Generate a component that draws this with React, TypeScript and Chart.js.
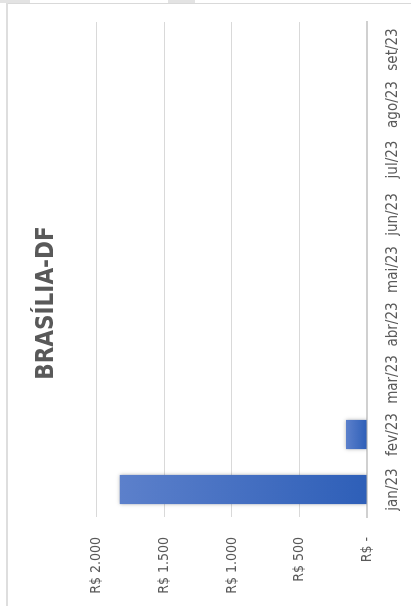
import React, { useEffect, useRef } from "react";
import { Chart, registerables } from "chart.js";

Chart.register(...registerables);

const categories = ["jan/23", "fev/23", "mar/23", "abr/23", "mai/23", "jun/23", "jul/23", "ago/23", "set/23"];
const values: (number | null)[] = [1830, 155, null, null, null, null, null, null, null];
const yTicks = [0, 500, 1000, 1500, 2000];
const yTickLabels = ["R$ -", "R$ 500", "R$ 1.000", "R$ 1.500", "R$ 2.000"];
const titleText = "BRASÍLIA-DF";

const W = 606;
const H = 411;
const FONT = '"Liberation Sans Narrow", "DejaVu Sans Condensed", "Open Sans", sans-serif';

export default function App() {
  const ref = useRef<HTMLCanvasElement>(null);

  useEffect(() => {
    document.body.style.margin = "0";
    const shadowPlugin = {
      id: "barShadow",
      beforeDatasetsDraw(chart: any) {
        const c = chart.ctx;
        c.save();
        c.shadowColor = "rgba(0,0,0,0.3)";
        c.shadowBlur = 4;
        c.shadowOffsetX = 0;
        c.shadowOffsetY = 0;
      },
      afterDatasetsDraw(chart: any) {
        chart.ctx.restore();
      },
    };
    const chart = new Chart(ref.current as HTMLCanvasElement, {
      type: "bar",
      data: {
        labels: categories,
        datasets: [
          {
            data: values,
            backgroundColor: (ctx: any) => {
              const ch = ctx.chart;
              if (!ch.chartArea || ctx.raw == null) return "#4472c4";
              const y0 = ch.scales.y.getPixelForValue(0);
              const y1 = ch.scales.y.getPixelForValue(ctx.raw);
              const g = ch.ctx.createLinearGradient(0, y1, 0, y0);
              g.addColorStop(0, "#5c80cb");
              g.addColorStop(1, "#2e5fb8");
              return g;
            },
            barPercentage: 0.53,
            categoryPercentage: 1,
          },
        ],
      },
      options: {
        responsive: false,
        maintainAspectRatio: false,
        animation: false,
        layout: { padding: 0 },
        plugins: {
          legend: { display: false },
          tooltip: { enabled: false },
          title: {
            display: true,
            text: titleText,
            color: "#595959",
            font: { family: FONT, size: 24, weight: "bold" },
            padding: { top: 32, bottom: 36 },
          },
        },
        scales: {
          x: {
            grid: { display: false, drawTicks: false },
            border: { display: true, color: "#d0d0d0", width: 2 },
            ticks: {
              color: "#595959",
              font: { family: FONT, size: 15 },
              padding: 17,
              maxRotation: 0,
              autoSkip: false,
            },
            afterFit: (s: any) => {
              s.height = 44;
            },
          },
          y: {
            min: 0,
            max: 2000,
            afterBuildTicks: (s: any) => {
              s.ticks = yTicks.map((v) => ({ value: v }));
            },
            grid: { color: "#d9d9d9", drawTicks: false, lineWidth: 1 },
            border: { display: false },
            ticks: {
              callback: (v: any) => yTickLabels[yTicks.indexOf(Number(v))],
              padding: 20,
              color: "#595959",
              font: { family: FONT, size: 14 },
            },
            afterFit: (s: any) => {
              s.width = 89;
            },
          },
          spacer: {
            type: "linear",
            position: "right",
            display: true,
            grid: { display: false, drawTicks: false },
            border: { display: false },
            ticks: { display: false },
            afterFit: (s: any) => {
              s.width = 22;
            },
          },
        },
      } as any,
      plugins: [shadowPlugin],
    });
    return () => chart.destroy();
  }, []);

  return (
    <div style={{ position: "relative", width: 411, height: 606, overflow: "hidden", background: "#fff" }}>
      <div style={{ position: "absolute", left: 0, top: 0, width: 30, height: 3, background: "#e3e3e3" }} />
      <div style={{ position: "absolute", left: 168, top: 0, width: 27, height: 3, background: "#e3e3e3" }} />
      <canvas
        ref={ref}
        width={W}
        height={H}
        style={{
          position: "absolute",
          left: 0,
          top: 0,
          display: "block",
          transformOrigin: "0 0",
          transform: `translateY(${W}px) rotate(-90deg)`,
        }}
      />
      <div style={{ position: "absolute", left: 6, top: 3, width: 405, height: 1, background: "#d9d9d9" }} />
      <div style={{ position: "absolute", left: 6, top: 3, width: 2, height: 603, background: "#dedede" }} />
    </div>
  );
}
